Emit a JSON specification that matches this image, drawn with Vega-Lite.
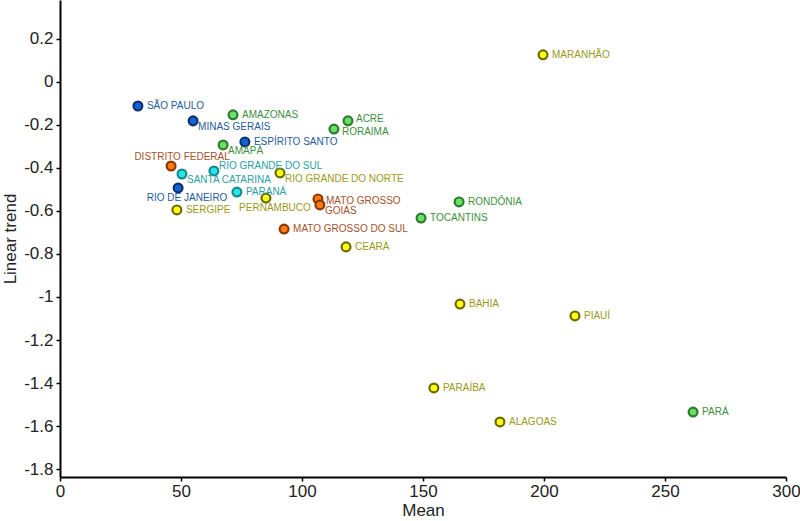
{
  "$schema": "https://vega.github.io/schema/vega-lite/v6.json",
  "width": 726,
  "height": 477,
  "autosize": "none",
  "padding": {"left": 60, "top": 0, "right": 14, "bottom": 44},
  "background": "white",
  "config": {
    "view": {"stroke": null},
    "font": "Liberation Sans",
    "axis": {
      "grid": false,
      "domainColor": "black",
      "domainWidth": 2,
      "tickColor": "black",
      "tickWidth": 1.5,
      "tickSize": 4,
      "labelFont": "Liberation Sans",
      "labelFontSize": 17,
      "labelColor": "#222222",
      "titleFont": "Liberation Sans",
      "titleFontSize": 17,
      "titleFontWeight": "normal",
      "titleColor": "#222222"
    }
  },
  "data": {
    "values": [
      {"name": "SÃO PAULO", "mean": 32.2, "trend": -0.112, "region": "Sudeste"},
      {"name": "MINAS GERAIS", "mean": 55.0, "trend": -0.181, "region": "Sudeste"},
      {"name": "ESPÍRITO SANTO", "mean": 76.4, "trend": -0.279, "region": "Sudeste"},
      {"name": "RIO DE JANEIRO", "mean": 48.8, "trend": -0.493, "region": "Sudeste"},
      {"name": "AMAZONAS", "mean": 71.5, "trend": -0.153, "region": "Norte"},
      {"name": "ACRE", "mean": 119.0, "trend": -0.181, "region": "Norte"},
      {"name": "RORAIMA", "mean": 113.2, "trend": -0.219, "region": "Norte"},
      {"name": "AMAPÁ", "mean": 67.4, "trend": -0.293, "region": "Norte"},
      {"name": "RONDÔNIA", "mean": 164.9, "trend": -0.558, "region": "Norte"},
      {"name": "TOCANTINS", "mean": 149.2, "trend": -0.633, "region": "Norte"},
      {"name": "PARÁ", "mean": 261.6, "trend": -1.535, "region": "Norte"},
      {"name": "DISTRITO FEDERAL", "mean": 45.9, "trend": -0.391, "region": "Centro-Oeste"},
      {"name": "MATO GROSSO", "mean": 106.6, "trend": -0.544, "region": "Centro-Oeste"},
      {"name": "GOIÁS", "mean": 107.4, "trend": -0.572, "region": "Centro-Oeste"},
      {"name": "MATO GROSSO DO SUL", "mean": 92.6, "trend": -0.684, "region": "Centro-Oeste"},
      {"name": "SANTA CATARINA", "mean": 50.4, "trend": -0.428, "region": "Sul"},
      {"name": "RIO GRANDE DO SUL", "mean": 63.6, "trend": -0.414, "region": "Sul"},
      {"name": "PARANÁ", "mean": 73.1, "trend": -0.512, "region": "Sul"},
      {"name": "RIO GRANDE DO NORTE", "mean": 90.9, "trend": -0.423, "region": "Nordeste"},
      {"name": "PERNAMBUCO", "mean": 85.1, "trend": -0.540, "region": "Nordeste"},
      {"name": "SERGIPE", "mean": 48.3, "trend": -0.595, "region": "Nordeste"},
      {"name": "CEARÁ", "mean": 118.2, "trend": -0.767, "region": "Nordeste"},
      {"name": "MARANHÃO", "mean": 199.6, "trend": 0.126, "region": "Nordeste"},
      {"name": "BAHIA", "mean": 165.3, "trend": -1.033, "region": "Nordeste"},
      {"name": "PIAUÍ", "mean": 212.8, "trend": -1.088, "region": "Nordeste"},
      {"name": "PARAÍBA", "mean": 154.5, "trend": -1.423, "region": "Nordeste"},
      {"name": "ALAGOAS", "mean": 181.8, "trend": -1.581, "region": "Nordeste"}
    ]
  },
  "encoding": {
    "x": {
      "field": "mean", "type": "quantitative",
      "scale": {"domain": [0, 300], "nice": false, "zero": false},
      "axis": {"values": [0, 50, 100, 150, 200, 250, 300], "title": "Mean", "titlePadding": 3, "labelPadding": 2, "labelFlush": false}
    },
    "y": {
      "field": "trend", "type": "quantitative",
      "scale": {"domain": [-1.837, 0.381], "nice": false, "zero": false},
      "axis": {
        "values": [0.2, 0, -0.2, -0.4, -0.6, -0.8, -1, -1.2, -1.4, -1.6, -1.8],
        "labelExpr": "replace(format(datum.value, '.1~f'), '−', '-')",
        "title": "Linear trend", "titlePadding": 4, "labelPadding": 3, "labelFlush": false
      }
    }
  },
  "layer": [
    {
      "mark": {"type": "point", "shape": "circle", "filled": true, "size": 78, "strokeWidth": 2.2, "opacity": 1},
      "encoding": {
        "fill": {"field": "region", "type": "nominal", "legend": null,
          "scale": {"domain": ["Sudeste", "Norte", "Centro-Oeste", "Sul", "Nordeste"], "range": ["#1263d6", "#66e066", "#ff7a10", "#22e8ee", "#ffff10"]}},
        "stroke": {"field": "region", "type": "nominal", "legend": null,
          "scale": {"domain": ["Sudeste", "Norte", "Centro-Oeste", "Sul", "Nordeste"], "range": ["#10306a", "#2e7a2e", "#8a3a05", "#1a8a8a", "#6a6a00"]}}
      }
    },
    {
      "transform": [{"filter": {"field": "name", "oneOf": ["SÃO PAULO", "AMAZONAS", "ESPÍRITO SANTO", "PARANÁ", "SERGIPE", "MATO GROSSO DO SUL", "CEARÁ", "RONDÔNIA", "TOCANTINS", "MARANHÃO", "BAHIA", "PIAUÍ", "PARAÍBA", "ALAGOAS", "PARÁ"]}}],
      "mark": {"type": "text", "align": "left", "baseline": "middle", "dx": 9, "dy": 0, "fontSize": 10, "font": "Liberation Sans"},
      "encoding": {
        "text": {"field": "name"},
        "color": {"field": "region", "type": "nominal", "legend": null,
          "scale": {"domain": ["Sudeste", "Norte", "Centro-Oeste", "Sul", "Nordeste"], "range": ["#1f5b9e", "#3d8f3d", "#a5522a", "#2a9fa6", "#9a9a1a"]}}
      }
    },
    {
      "transform": [{"filter": {"field": "name", "oneOf": ["ACRE"]}}],
      "mark": {"type": "text", "align": "left", "baseline": "middle", "dx": 8, "dy": -2, "fontSize": 10, "font": "Liberation Sans"},
      "encoding": {
        "text": {"field": "name"},
        "color": {"field": "region", "type": "nominal", "legend": null}
      }
    },
    {
      "transform": [{"filter": {"field": "name", "oneOf": ["RORAIMA", "MATO GROSSO"]}}],
      "mark": {"type": "text", "align": "left", "baseline": "middle", "dx": 8, "dy": 2.5, "fontSize": 10, "font": "Liberation Sans"},
      "encoding": {
        "text": {"field": "name"},
        "color": {"field": "region", "type": "nominal", "legend": null}
      }
    },
    {
      "transform": [{"filter": {"field": "name", "oneOf": ["MINAS GERAIS", "AMAPÁ", "SANTA CATARINA", "RIO GRANDE DO NORTE", "GOIÁS"]}}],
      "mark": {"type": "text", "align": "left", "baseline": "middle", "dx": 5, "dy": 6, "fontSize": 10, "font": "Liberation Sans"},
      "encoding": {
        "text": {"field": "name"},
        "color": {"field": "region", "type": "nominal", "legend": null}
      }
    },
    {
      "transform": [{"filter": {"field": "name", "oneOf": ["RIO GRANDE DO SUL"]}}],
      "mark": {"type": "text", "align": "left", "baseline": "middle", "dx": 5, "dy": -5, "fontSize": 10, "font": "Liberation Sans"},
      "encoding": {
        "text": {"field": "name"},
        "color": {"field": "region", "type": "nominal", "legend": null}
      }
    },
    {
      "transform": [{"filter": {"field": "name", "oneOf": ["RIO DE JANEIRO", "PERNAMBUCO"]}}],
      "mark": {"type": "text", "align": "center", "baseline": "middle", "dx": 9, "dy": 10, "fontSize": 10, "font": "Liberation Sans"},
      "encoding": {
        "text": {"field": "name"},
        "color": {"field": "region", "type": "nominal", "legend": null}
      }
    },
    {
      "transform": [{"filter": {"field": "name", "oneOf": ["DISTRITO FEDERAL"]}}],
      "mark": {"type": "text", "align": "center", "baseline": "middle", "dx": 11, "dy": -9, "fontSize": 10, "font": "Liberation Sans"},
      "encoding": {
        "text": {"field": "name"},
        "color": {"field": "region", "type": "nominal", "legend": null}
      }
    }
  ]
}
